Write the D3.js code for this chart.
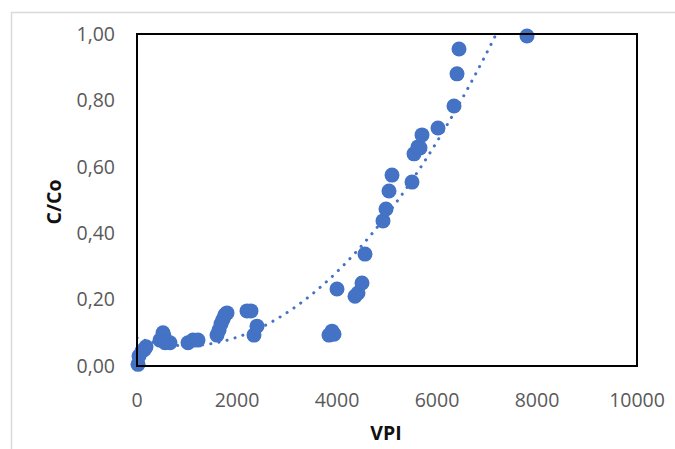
<!DOCTYPE html>
<html>
<head>
<meta charset="utf-8">
<script src="https://cdn.jsdelivr.net/npm/d3@7"></script>
<style>
  body { margin: 0; background: #fff; }
  svg { display: block; }
</style>
</head>
<body>
<svg id="chart" width="675" height="449"></svg>
<script>
// VPI (x) and C/Co (y)
const vpi = [20, 40, 100, 150, 180, 460, 520, 540, 560, 660,
  1020, 1120, 1220, 1600, 1640, 1680, 1720, 1760, 1800,
  2200, 2280, 2340, 2400, 3840, 3900, 3940,
  4000, 4360, 4420, 4500, 4560,
  4920, 4980, 5040, 5100, 5500, 5540, 5620, 5660, 5700,
  6020, 6340, 6400, 6440, 7800];
const cco = [0.005, 0.03, 0.045, 0.05, 0.058, 0.078, 0.10, 0.09, 0.07, 0.07,
  0.07, 0.078, 0.078, 0.093, 0.108, 0.127, 0.14, 0.154, 0.16,
  0.166, 0.166, 0.093, 0.12, 0.093, 0.105, 0.096,
  0.232, 0.21, 0.22, 0.25, 0.337,
  0.437, 0.473, 0.527, 0.575, 0.554, 0.639, 0.66, 0.657, 0.696,
  0.717, 0.783, 0.88, 0.955, 0.994];

const xTicks = [0, 2000, 4000, 6000, 8000, 10000];
const yTicks = [0, 0.2, 0.4, 0.6, 0.8, 1.0];

const blue = "#4472C4";
const svg = d3.select("#chart");

const x = d3.scaleLinear().domain([0, 10000]).range([137, 637]);
const y = d3.scaleLinear().domain([0, 1]).range([366, 34]);

// outer chart border
svg.append("rect")
  .attr("x", 11.5).attr("y", 12.5)
  .attr("width", 700).attr("height", 500)
  .attr("fill", "none")
  .attr("stroke", "#D9D9D9")
  .attr("stroke-width", 1.5);

svg.append("clipPath").attr("id", "plot-clip")
  .append("rect")
  .attr("x", x(0)).attr("y", y(1))
  .attr("width", x(10000) - x(0)).attr("height", y(0) - y(1));

// quadratic least-squares trendline (like Excel polynomial order 2)
function polyfit(xs, ys, order) {
  const n = order + 1;
  const A = [];
  for (let i = 0; i < n; i++) {
    A.push(new Array(n + 1).fill(0));
  }
  xs.forEach((xv, k) => {
    for (let i = 0; i < n; i++) {
      for (let j = 0; j < n; j++) A[i][j] += Math.pow(xv, i + j);
      A[i][n] += ys[k] * Math.pow(xv, i);
    }
  });
  for (let i = 0; i < n; i++) {
    let p = i;
    for (let r = i + 1; r < n; r++) if (Math.abs(A[r][i]) > Math.abs(A[p][i])) p = r;
    [A[i], A[p]] = [A[p], A[i]];
    for (let r = 0; r < n; r++) {
      if (r === i) continue;
      const f = A[r][i] / A[i][i];
      for (let c = i; c <= n; c++) A[r][c] -= f * A[i][c];
    }
  }
  return A.map((row, i) => row[n] / row[i]);
}

const xs = vpi.map(v => v / 1000);
const coef = polyfit(xs, cco, 2);
const trend = d3.range(0, d3.max(vpi) + 1, 20).map(v => {
  const t = v / 1000;
  return [v, coef[0] + coef[1] * t + coef[2] * t * t];
});

svg.append("path")
  .datum(trend)
  .attr("clip-path", "url(#plot-clip)")
  .attr("fill", "none")
  .attr("stroke", blue)
  .attr("stroke-width", 3)
  .attr("stroke-linecap", "round")
  .attr("stroke-dasharray", "0.1,8.2")
  .attr("d", d3.line().x(d => x(d[0])).y(d => y(d[1])));

// points
svg.append("g").selectAll("circle")
  .data(vpi.map((v, i) => [v, cco[i]]))
  .join("circle")
  .attr("cx", d => x(d[0]))
  .attr("cy", d => y(d[1]))
  .attr("r", 7.5)
  .attr("fill", blue);

// plot frame
svg.append("rect")
  .attr("x", x(0)).attr("y", y(1))
  .attr("width", x(10000) - x(0)).attr("height", y(0) - y(1))
  .attr("fill", "none")
  .attr("stroke", "#000")
  .attr("stroke-width", 2);

const fmtY = d => d3.format(".2f")(d).replace(".", ",");

svg.append("g").selectAll("text")
  .data(yTicks)
  .join("text")
  .attr("x", 115)
  .attr("y", d => y(d))
  .attr("dy", "0.35em")
  .attr("text-anchor", "end")
  .attr("font-family", "Open Sans, sans-serif")
  .attr("font-size", 19.5)
  .attr("fill", "#595959")
  .text(fmtY);

svg.append("g").selectAll("text")
  .data(xTicks)
  .join("text")
  .attr("x", d => x(d))
  .attr("y", 407)
  .attr("text-anchor", "middle")
  .attr("font-family", "Open Sans, sans-serif")
  .attr("font-size", 19.5)
  .attr("fill", "#595959")
  .text(d => d);

svg.append("text")
  .attr("x", 386)
  .attr("y", 440)
  .attr("text-anchor", "middle")
  .attr("font-family", "Open Sans, sans-serif")
  .attr("font-weight", "bold")
  .attr("font-size", 19.5)
  .attr("fill", "#111")
  .text("VPI");

svg.append("text")
  .attr("transform", "translate(61,202) rotate(-90)")
  .attr("text-anchor", "middle")
  .attr("font-family", "Open Sans, sans-serif")
  .attr("font-weight", "bold")
  .attr("font-size", 19.5)
  .attr("fill", "#111")
  .text("C/Co");
</script>
</body>
</html>
